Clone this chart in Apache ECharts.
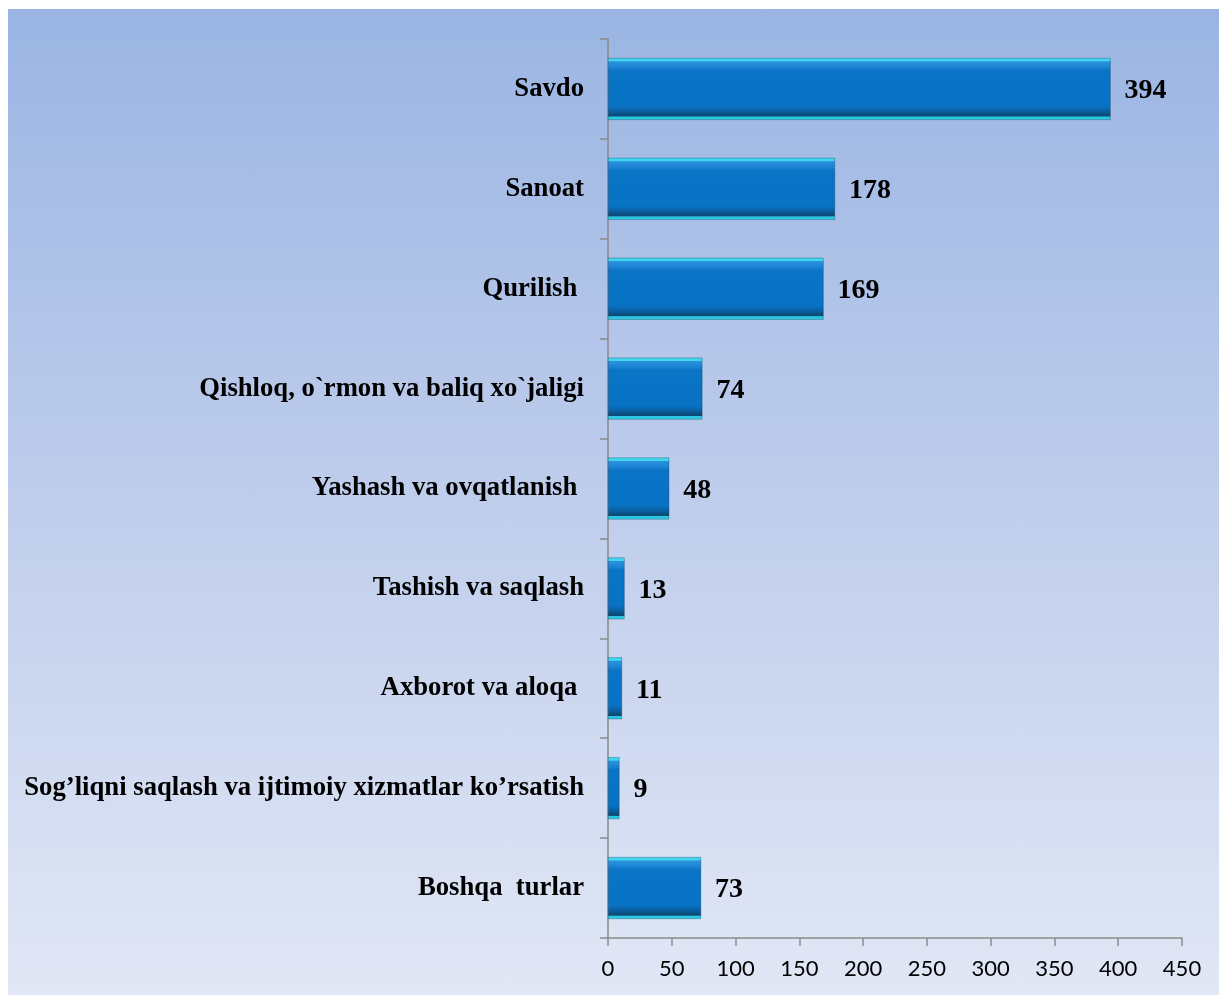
<!DOCTYPE html>
<html>
<head>
<meta charset="utf-8">
<script src="https://cdn.jsdelivr.net/npm/echarts@6/dist/echarts.min.js"></script>
<style>
html, body { margin: 0; padding: 0; background: #ffffff; }
#bg {
    position: absolute; left: 8px; top: 9px; width: 1211px; height: 986px;
    background: linear-gradient(to bottom, #9ab5e3 0%, #bccbeb 45%, #e1e7f5 100%);
}
#chart { position: absolute; left: 0; top: 0; width: 1219px; height: 995px; }
</style>
</head>
<body>
<div id="bg"></div>
<div id="chart"></div>
<script>
const categories = [
    'Savdo',
    'Sanoat',
    'Qurilish ',
    'Qishloq, o`rmon va baliq xo`jaligi',
    'Yashash va ovqatlanish ',
    'Tashish va saqlash',
    'Axborot va aloqa ',
    'Sog’liqni saqlash va ijtimoiy xizmatlar ko’rsatish',
    'Boshqa  turlar'
];
const values = [394, 178, 169, 74, 48, 13, 11, 9, 73];
const xTicks = [0, 50, 100, 150, 200, 250, 300, 350, 400, 450];

let myChart = echarts.init(document.getElementById('chart'));

// bevel look: cyan rim, light top, dark bottom
const barColor = new echarts.graphic.LinearGradient(0, 0, 0, 1, [
    { offset: 0, color: '#3fd6ee' },
    { offset: 0.05, color: '#3fd6ee' },
    { offset: 0.06, color: '#2b93dc' },
    { offset: 0.16, color: '#1a82d2' },
    { offset: 0.2, color: '#0a74c6' },
    { offset: 0.78, color: '#0872c4' },
    { offset: 0.86, color: '#0b5f9f' },
    { offset: 0.94, color: '#0c4670' },
    { offset: 0.95, color: '#2cc8e2' },
    { offset: 1, color: '#2cc8e2' }
]);

const option = {
    animation: false,
    grid: {
        left: 608,
        right: 37,
        top: 39,
        bottom: 57
    },
    xAxis: {
        type: 'value',
        min: xTicks[0],
        max: xTicks[xTicks.length - 1],
        interval: 50,
        axisLine: {
            show: true,
            lineStyle: { color: '#8a8a8a', width: 1.5 }
        },
        axisTick: {
            show: true,
            length: 8,
            lineStyle: { color: '#8a8a8a', width: 1.5 }
        },
        splitLine: { show: false },
        axisLabel: {
            margin: 20,
            color: '#000',
            fontFamily: 'Lato',
            fontSize: 22
        }
    },
    yAxis: {
        type: 'category',
        inverse: true,
        data: categories,
        axisLine: {
            show: true,
            lineStyle: { color: '#8a8a8a', width: 1.5 }
        },
        axisTick: {
            show: true,
            length: 8,
            lineStyle: { color: '#8a8a8a', width: 1.5 }
        },
        axisLabel: {
            margin: 24,
            color: '#000',
            fontFamily: 'Liberation Serif',
            fontWeight: 'bold',
            fontSize: 26.7
        }
    },
    series: [
        {
            type: 'bar',
            data: values,
            barCategoryGap: '38%',
            itemStyle: {
                color: barColor,
                borderColor: 'rgba(10,50,80,0.6)',
                borderWidth: 0.5
            },
            label: {
                show: true,
                position: 'right',
                distance: 14,
                offset: [0, 2],
                color: '#000',
                fontFamily: 'Liberation Serif',
                fontWeight: 'bold',
                fontSize: 28
            }
        }
    ]
};
myChart.setOption(option);
</script>
</body>
</html>
